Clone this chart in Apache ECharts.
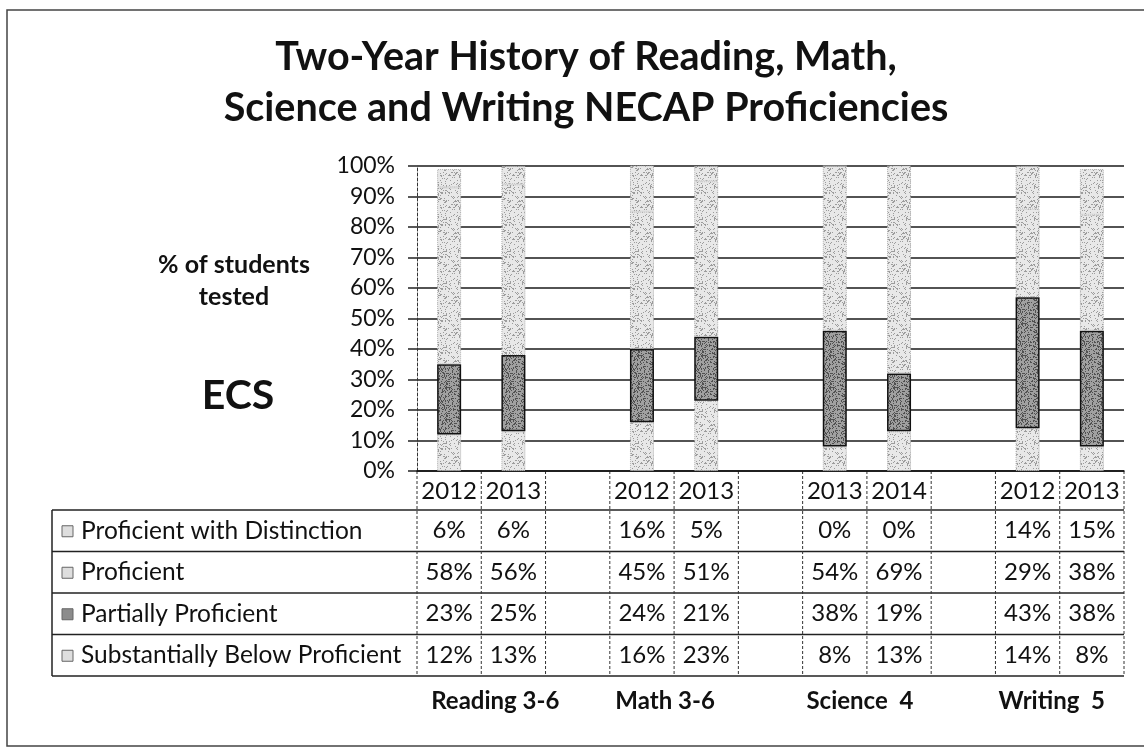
<!DOCTYPE html>
<html>
<head>
<meta charset="utf-8">
<script src="https://cdn.jsdelivr.net/npm/echarts@6/dist/echarts.min.js"></script>
<style>
  html, body { margin: 0; padding: 0; background: #fff; }
  #main { width: 1144px; height: 749px; }
</style>
</head>
<body>
<div id="main"></div>
<script>
// categories along the x axis (empty slots are gaps between subjects)
const categories = ['2012', '2013', '', '2012', '2013', '', '2013', '2014', '', '2012', '2013'];
const subjects = ['Reading 3-6', 'Math 3-6', 'Science  4', 'Writing  5'];
const subjectCols = [[0, 1], [3, 4], [6, 7], [9, 10]];

// percentages per level
const belowProficient = [12, 13, null, 16, 23, null, 8, 13, null, 14, 8];
const partiallyProficient = [23, 25, null, 24, 21, null, 38, 19, null, 43, 38];
const proficient = [58, 56, null, 45, 51, null, 54, 69, null, 29, 38];
const withDistinction = [6, 6, null, 16, 5, null, 0, 0, null, 14, 15];

const FONT = 'Lato, "Open Sans", sans-serif';

// grainy scan-like fill (hash based, no diagonal banding)
function speckle(base, dot, seed, density) {
    var n = 32;
    var c = document.createElement('canvas');
    c.width = c.height = n;
    var g = c.getContext('2d');
    g.fillStyle = base;
    g.fillRect(0, 0, n, n);
    g.fillStyle = dot;
    for (var y = 0; y < n; y++) {
        for (var x = 0; x < n; x++) {
            var h = Math.sin(x * 127.1 + y * 311.7 + seed * 74.7) * 43758.5453;
            h = h - Math.floor(h);
            if (h < density) g.fillRect(x, y, 1, 1);
        }
    }
    return c;
}
const lightFill = { image: speckle('#e8e8e8', '#9c9c9c', 3, 0.17), repeat: 'repeat' };
const darkFill = { image: speckle('#a0a0a0', '#505050', 9, 0.3), repeat: 'repeat' };

const lightStyle = { color: lightFill, borderColor: '#b0b0b0', borderWidth: 1, borderType: 'dotted' };
const darkStyle = { color: darkFill, borderColor: '#111', borderWidth: 1.5 };

var chart = echarts.init(document.getElementById('main'));

var option = {
    backgroundColor: '#fff',
    animation: false,
    grid: { left: 417, right: 20, top: 166, bottom: 278 },
    xAxis: {
        type: 'category',
        data: categories,
        axisLine: { show: true, lineStyle: { color: '#111', width: 1.5 } },
        axisTick: { show: false },
        axisLabel: { show: false }
    },
    yAxis: {
        type: 'value',
        min: 0,
        max: 100,
        interval: 10,
        axisLine: { show: true, lineStyle: { color: '#333', width: 1, type: [3, 2] } },
        axisTick: { show: true, length: 9, lineStyle: { color: '#222', width: 1.5 } },
        axisLabel: {
            formatter: '{value}%',
            color: '#111',
            fontSize: 23,
            fontFamily: FONT,
            margin: 22
        },
        splitLine: { show: true, lineStyle: { color: '#1a1a1a', width: 1.5 } }
    },
    series: [
        { name: 'Substantially Below Proficient', type: 'bar', stack: 'all', barWidth: 24, data: belowProficient, itemStyle: lightStyle },
        { name: 'Partially Proficient', type: 'bar', stack: 'all', barWidth: 24, data: partiallyProficient, itemStyle: darkStyle },
        { name: 'Proficient', type: 'bar', stack: 'all', barWidth: 24, data: proficient, itemStyle: lightStyle },
        { name: 'Proficient with Distinction', type: 'bar', stack: 'all', barWidth: 24, data: withDistinction, itemStyle: lightStyle }
    ]
};
chart.setOption(option);

// table under the chart, laid out from the axis scales
function buildTable() {
    var c0 = chart.convertToPixel({ xAxisIndex: 0 }, 0);
    var c1 = chart.convertToPixel({ xAxisIndex: 0 }, 1);
    var band = c1 - c0;
    var colLeft = c0 - band / 2;
    var colRight = colLeft + band * categories.length;
    var yTop = chart.convertToPixel({ yAxisIndex: 0 }, 0);
    var headH = 39, rowH = 41.5;
    var tableTop = yTop + headH;
    var labelLeft = 52;

    var rows = [
        { label: 'Proficient with Distinction', values: withDistinction, dark: false },
        { label: 'Proficient', values: proficient, dark: false },
        { label: 'Partially Proficient', values: partiallyProficient, dark: true },
        { label: 'Substantially Below Proficient', values: belowProficient, dark: false }
    ];
    var tableBottom = tableTop + rowH * rows.length;
    var els = [];

    // outer frame of the picture
    els.push({ type: 'rect', shape: { x: 7, y: 10, width: 1160, height: 736 },
        style: { fill: null, stroke: '#444', lineWidth: 1.5 }, silent: true });

    // horizontal row lines
    for (var r = 0; r <= rows.length; r++) {
        var y = tableTop + r * rowH;
        els.push({ type: 'line', shape: { x1: labelLeft, y1: y, x2: colRight, y2: y },
            style: { stroke: '#222', lineWidth: 1.5 } });
    }
    // label column left border
    els.push({ type: 'line', shape: { x1: labelLeft, y1: tableTop, x2: labelLeft, y2: tableBottom },
        style: { stroke: '#222', lineWidth: 1.5 } });
    // dashed column separators
    for (var i = 0; i <= categories.length; i++) {
        var x = colLeft + i * band;
        els.push({ type: 'line', shape: { x1: x, y1: yTop, x2: x, y2: tableBottom },
            style: { stroke: '#333', lineWidth: 1, lineDash: [3, 2] } });
    }
    // year headers and values
    categories.forEach(function (cat, i) {
        if (!cat) return;
        var cx = chart.convertToPixel({ xAxisIndex: 0 }, i);
        els.push({ type: 'text', x: cx, y: yTop + headH / 2 + 1,
            style: { text: cat, fill: '#111', font: '24px ' + FONT, align: 'center', verticalAlign: 'middle' } });
        rows.forEach(function (row, r) {
            els.push({ type: 'text', x: cx, y: tableTop + r * rowH + rowH / 2,
                style: { text: row.values[i] + '%', fill: '#111', font: '24px ' + FONT, align: 'center', verticalAlign: 'middle' } });
        });
    });
    // row labels with legend keys
    rows.forEach(function (row, r) {
        var cy = tableTop + r * rowH + rowH / 2;
        els.push({ type: 'rect', shape: { x: 62, y: cy - 5, width: 11, height: 11 },
            style: { fill: row.dark ? '#8c8c8c' : '#dedede', stroke: '#666', lineWidth: 1 } });
        els.push({ type: 'text', x: 81, y: cy,
            style: { text: row.label, fill: '#111', font: '24.5px ' + FONT, align: 'left', verticalAlign: 'middle' } });
    });
    // subject labels below the table
    var nudge = [14, -9, -7, -8];
    subjects.forEach(function (s, k) {
        var a = chart.convertToPixel({ xAxisIndex: 0 }, subjectCols[k][0]);
        var b = chart.convertToPixel({ xAxisIndex: 0 }, subjectCols[k][1]);
        els.push({ type: 'text', x: (a + b) / 2 + nudge[k], y: tableBottom + 25,
            style: { text: s, fill: '#111', font: 'bold 24px ' + FONT, align: 'center', verticalAlign: 'middle' } });
    });

    // title and side labels
    els.push({ type: 'text', x: 586, y: 57,
        style: { text: 'Two-Year History of Reading, Math,', fill: '#111', font: 'bold 39.5px ' + FONT, align: 'center', verticalAlign: 'middle' } });
    els.push({ type: 'text', x: 586, y: 108,
        style: { text: 'Science and Writing NECAP Proficiencies', fill: '#111', font: 'bold 39.5px ' + FONT, align: 'center', verticalAlign: 'middle' } });
    els.push({ type: 'text', x: 234, y: 265,
        style: { text: '% of students', fill: '#111', font: 'bold 25px ' + FONT, align: 'center', verticalAlign: 'middle' } });
    els.push({ type: 'text', x: 234, y: 297,
        style: { text: 'tested', fill: '#111', font: 'bold 25px ' + FONT, align: 'center', verticalAlign: 'middle' } });
    els.push({ type: 'text', x: 238, y: 396,
        style: { text: 'ECS', fill: '#111', font: 'bold 41px ' + FONT, align: 'center', verticalAlign: 'middle' } });

    chart.setOption({ graphic: { elements: els } });
}
buildTable();

window.addEventListener('resize', function () {
    chart.resize();
    buildTable();
});
</script>
</body>
</html>
